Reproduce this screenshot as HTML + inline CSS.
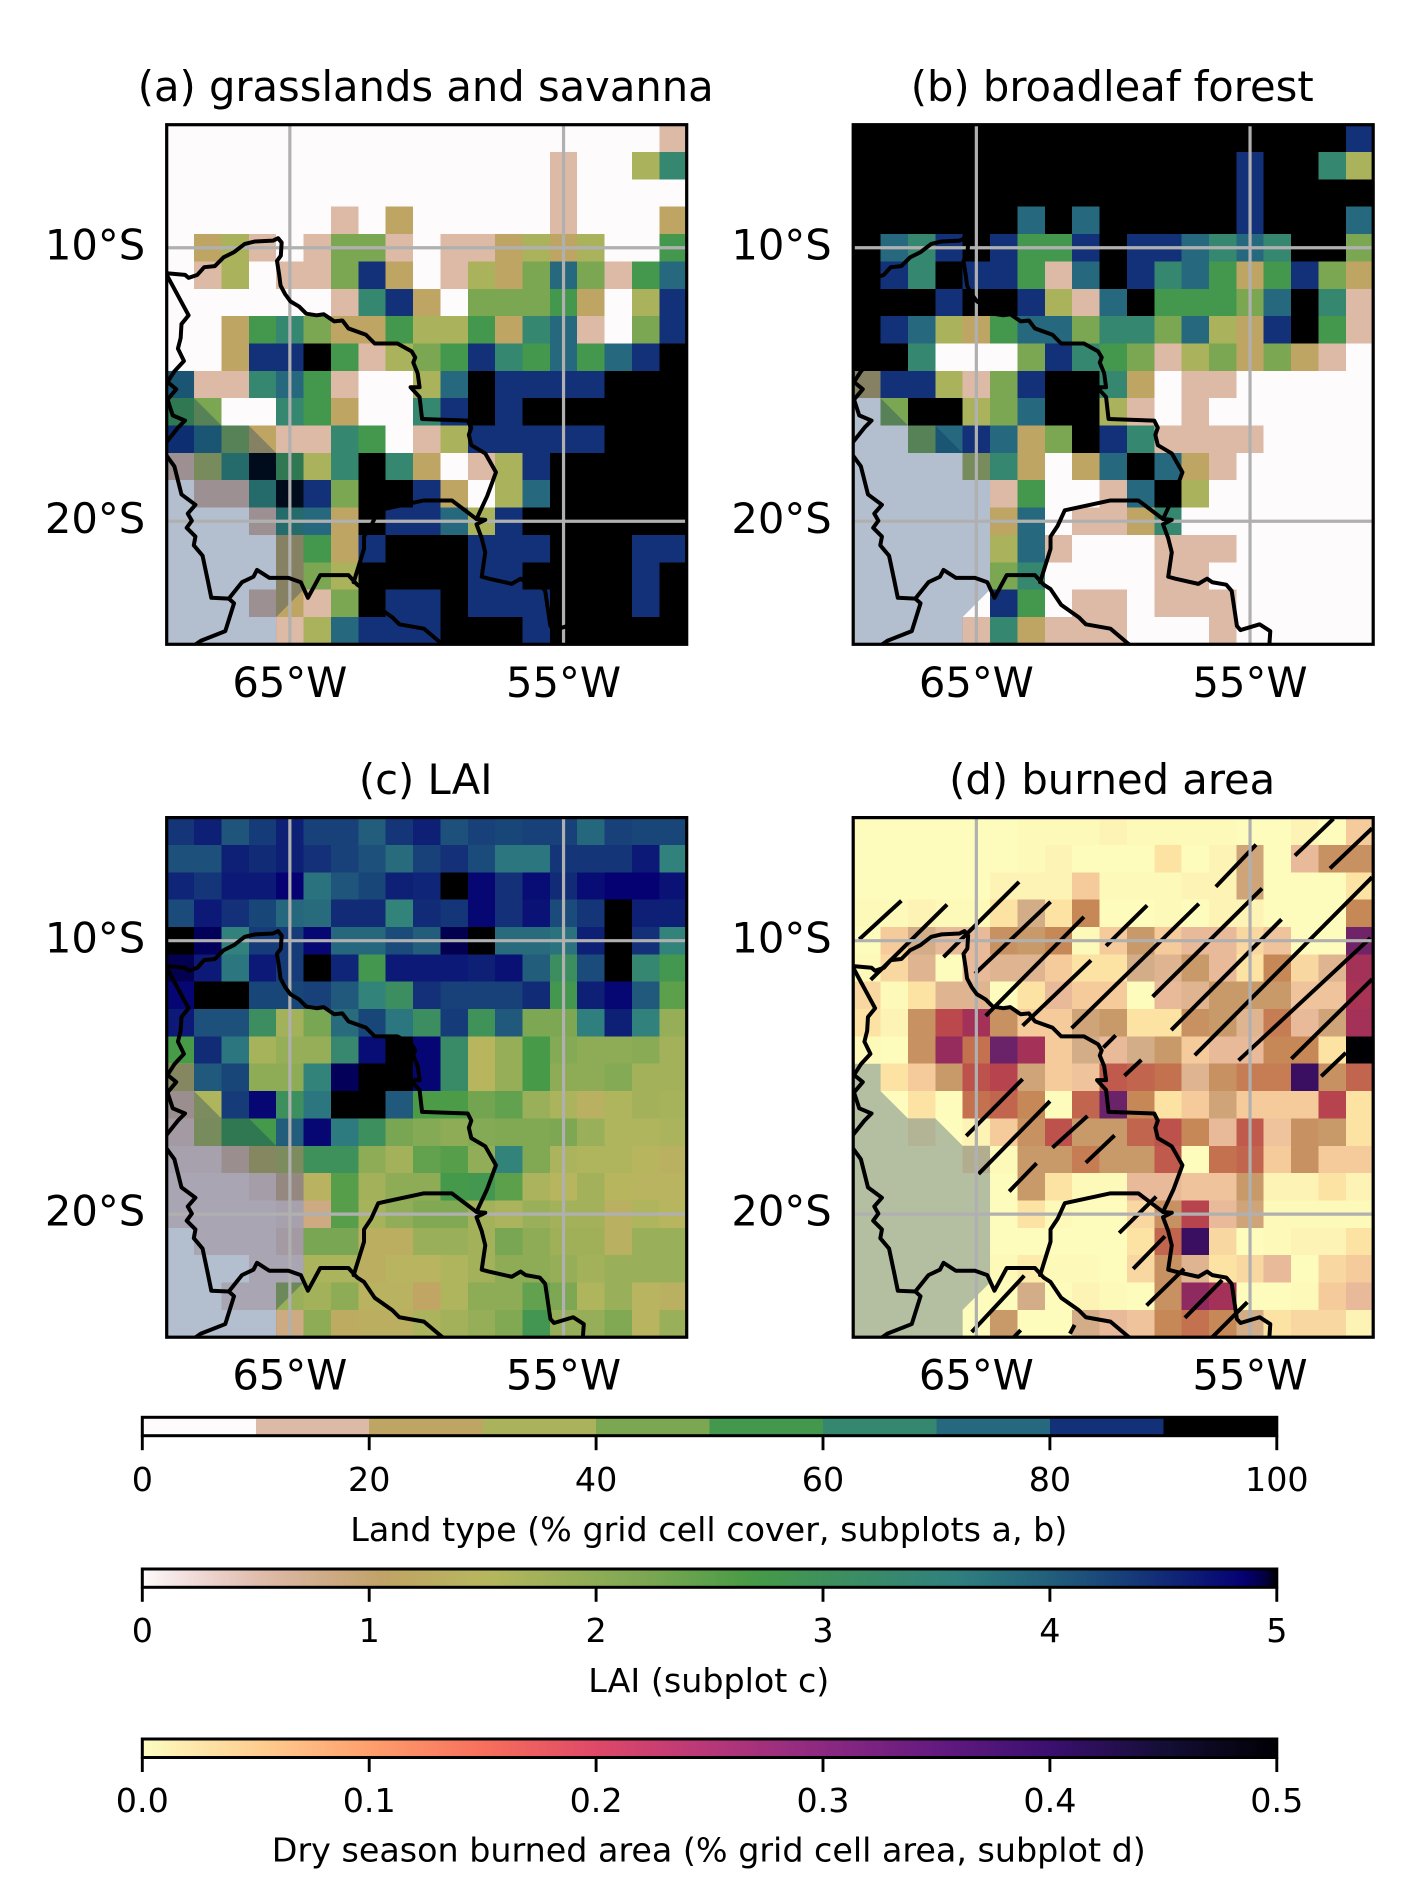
<!DOCTYPE html>
<html lang="en">
<head>
<meta charset="utf-8">
<title>Land type, LAI and burned area maps</title>
<style>
html,body{margin:0;padding:0;background:#fff}
svg{display:block}
text{font-family:"DejaVu Sans","Liberation Sans",sans-serif;fill:#000}
.title,.maptick{font-size:41.67px}
.cbtick,.cblabel{font-size:33.33px}
</style>
</head>
<body>
<svg id="figure" xmlns="http://www.w3.org/2000/svg" width="1417" height="1889" viewBox="0 0 1417 1889">
  <g id="panels"></g>
  <g id="colorbars"></g>
  <text class="title" x="425.7" y="100.8" text-anchor="middle">(a) grasslands and savanna</text>
  <text class="title" x="1112.2" y="100.8" text-anchor="middle">(b) broadleaf forest</text>
  <text class="title" x="425.7" y="793.8" text-anchor="middle">(c) LAI</text>
  <text class="title" x="1112.2" y="793.8" text-anchor="middle">(d) burned area</text>
  <text class="cblabel" x="708.8" y="1541" text-anchor="middle">Land type (% grid cell cover, subplots a, b)</text>
  <text class="cblabel" x="708.8" y="1692" text-anchor="middle">LAI (subplot c)</text>
  <text class="cblabel" x="708.8" y="1861.5" text-anchor="middle">Dry season burned area (% grid cell area, subplot d)</text>
</svg>
<script>
// ---------- data: cover deciles (0 = 0-10 %, 9 = 90-100 %) ----------
const grasslandDeciles = [
[0,0,0,0,0,0,0,0,0,0,0,0,0,0,0,0,0,0,1],
[0,0,0,0,0,0,0,0,0,0,0,0,0,0,1,0,0,3,6],
[0,0,0,0,0,0,0,0,0,0,0,0,0,0,1,0,0,0,0],
[0,0,0,0,0,0,1,0,2,0,0,0,0,0,1,0,0,0,2],
[0,2,3,1,0,1,4,4,1,0,1,1,2,3,2,3,0,0,5],
[0,1,3,0,1,1,4,8,2,0,1,3,2,4,7,4,1,5,7],
[0,0,0,0,0,0,1,6,8,2,0,4,4,4,5,2,0,3,8],
[0,0,2,5,6,4,2,2,5,3,3,5,2,6,7,1,0,4,8],
[0,0,2,8,8,9,5,1,3,4,5,8,6,5,7,5,7,8,9],
[7,1,1,6,7,5,1,0,0,3,7,9,8,8,8,8,9,9,9],
[5,4,0,0,6,5,2,0,0,6,8,9,8,9,9,9,9,9,9],
[8,7,4,2,1,1,6,5,0,1,3,8,8,8,8,8,9,9,9],
[1,3,6,9,5,3,6,9,6,2,0,1,3,8,9,9,9,9,9],
[0,1,1,6,9,8,4,9,9,8,2,0,3,7,9,9,9,9,9],
[0,0,0,1,6,7,2,9,8,8,7,3,8,9,9,9,9,9,9],
[0,0,0,0,2,5,2,8,9,9,9,8,8,8,9,9,9,8,8],
[0,0,0,0,2,4,3,9,9,9,9,8,8,9,9,9,9,8,9],
[0,0,0,1,2,1,4,9,8,8,9,8,8,8,9,9,9,8,9],
[0,0,0,0,1,3,7,8,8,8,9,9,9,8,9,9,9,9,9]];
const forestDeciles = [
[9,9,9,9,9,9,9,9,9,9,9,9,9,9,9,9,9,9,8],
[9,9,9,9,9,9,9,9,9,9,9,9,9,9,8,9,9,6,3],
[9,9,9,9,9,9,9,9,9,9,9,9,9,9,8,9,9,9,9],
[9,9,9,9,9,9,7,9,7,9,9,9,9,9,8,9,9,9,7],
[9,7,6,8,9,8,5,5,8,9,8,8,7,6,7,6,9,9,4],
[9,8,6,9,8,8,5,1,7,9,8,6,7,5,2,5,8,4,2],
[9,9,9,8,9,9,8,3,1,7,9,5,5,5,4,7,9,6,1],
[9,8,7,3,2,5,7,7,4,6,6,4,7,3,2,8,9,5,1],
[9,9,6,0,0,0,4,8,6,5,4,1,3,4,2,4,2,1,0],
[2,8,8,3,1,4,8,9,9,6,2,0,1,1,0,0,0,0,0],
[0,4,9,9,3,4,7,9,9,3,1,0,1,0,0,0,0,0,0],
[0,0,4,7,8,7,2,4,9,8,6,1,1,1,1,0,0,0,0],
[0,0,0,0,3,6,2,0,2,7,9,7,2,1,0,0,0,0,0],
[0,0,0,0,0,1,5,0,0,1,7,9,3,0,0,0,0,0,0],
[0,0,0,0,0,2,7,0,1,1,2,6,0,0,0,0,0,0,0],
[0,0,0,0,0,3,7,1,0,0,0,1,1,1,0,0,0,0,0],
[0,0,0,0,0,4,6,0,0,0,0,1,1,0,0,0,0,0,0],
[0,0,0,0,0,8,5,0,1,1,0,1,1,1,0,0,0,0,0],
[0,0,0,0,1,6,2,1,1,1,0,0,0,1,0,0,0,0,0]];
const laiValues = [
[4.4,4.6,4.1,4.35,4.6,4.3,4.3,4,4.4,4.6,4.15,4.3,4.25,4.3,4.3,3.9,4.3,4.25,4.25],
[4.15,4.15,4.6,4.5,4.6,4.45,4.3,4.15,3.85,4.3,4.45,4.2,3.7,3.7,4.4,4.4,4.4,4.65,3.55],
[4.55,4.4,4.65,4.65,4.85,3.75,4.1,4.25,4.6,4.55,5,4.8,4.45,4.75,4.5,4.75,4.85,4.85,4.7],
[4.2,4.65,4.45,4.25,3.9,3.85,4.5,4.5,3.5,4.5,4.4,4.8,4.45,4.7,4.2,4.4,5,4.6,4.6],
[5,4.9,3.55,4.35,4.35,4.8,3.9,3.9,4.2,4,4.92,5,3.85,3.85,3.75,4.6,5,4.45,3.5],
[4.92,4.65,3.7,4.65,4.35,5,4.55,2.8,4.65,4.65,4.65,4.6,4.72,4,3.1,4.2,5,3.35,2.8],
[4.82,5,5,4.25,4.25,4.3,4.05,3.5,3.1,4.45,4.3,4.3,4.3,4.5,2.8,4.6,4.8,4.05,2.5],
[4.65,4.15,4.15,3.1,1.75,2.25,3.85,4.25,3.7,3.1,4.35,2.95,4.05,2.2,2.2,3.6,4.6,3.55,1.9],
[2.7,4.5,3.7,1.7,1.9,1.9,3.3,4.75,5,4.82,3.2,1.5,1.9,2.7,2.1,2,2,2.05,1.75],
[1.3,4.05,4.25,2,2,3.5,4.9,5,5,4.82,3.2,1.5,1.9,2.7,2,2,2.1,1.75,1.75],
[0.6,1.6,4.35,4.8,3.05,3.7,5,5,4.05,2.65,2.65,2.3,2.45,1.85,1.65,1.35,1.6,1.75,1.7],
[0.4,1.67,2.78,2.75,4,4.8,3.65,3.05,2.25,2.1,2,2.1,2.15,2.15,2.2,1.85,1.6,1.6,1.65],
[0.3,0.3,0.6,1.3,1.6,3,3,2,1.75,2.45,2.55,1.95,3.5,2.15,1.65,1.6,1.6,1.5,1.35],
[0.25,0.25,0.25,0.35,0.75,1.4,2.55,1.75,2,2,2.75,2.8,2.5,1.65,1.5,1.75,1.5,1.45,1.45],
[0.25,0.25,0.25,0.25,0.3,0.85,2.55,1.7,1.95,2.15,2.15,1.75,1.65,1.85,1.75,1.75,1.35,1.6,1.5],
[0,0.25,0.25,0.25,0.4,2.25,2.25,1.3,1.3,1.85,1.85,1.75,2.25,2,1.8,1.8,1.35,1.85,1.85],
[0,0,0,0.25,0.25,1.65,1.65,1.3,1.45,1.45,1.6,1.75,2,2,1.9,1.75,1.85,1.85,1.85],
[0,0,0.25,0.25,1.85,1.75,2,1.4,1.4,1.1,1.6,2,2,2.45,2.2,1.6,1.85,1.45,1.35],
[0,0,0,0,0.85,2,1.25,1.3,1.3,1.65,1.75,1.9,2.15,2.85,1.9,1.9,2.15,1.45,1.85]];
const burnedValues = [
[0,0,0,0,0,0,.005,.005,.005,.01,.005,.005,.005,.005,0,0,.01,0,.03],
[0,0,0,0,0,0,.005,.01,0,0,0,.02,0,.01,.055,0,.04,.065,.065],
[0,0,0,0,0,.01,.01,.01,.03,.005,.005,.005,.01,.01,.055,0,0,0,.02],
[.005,.005,.01,.005,.005,.02,.05,.02,.07,0,0,.005,0,.01,.01,0,0,0,.07],
[0,.03,.05,.04,.04,.065,.06,.07,.005,.03,.06,.03,.04,.04,.025,.035,0,0,.16],
[.005,.025,.045,0,.04,.045,.045,.03,.02,.02,.05,.045,.06,.04,.02,.07,.025,.045,.125],
[.025,.005,.02,.045,.045,0,.02,.04,.03,.03,0,.04,.045,.06,.06,.06,.035,.035,.12],
[.02,.01,.065,.1,.125,.065,.03,.03,.055,.06,.02,.02,.065,.06,.045,.075,.04,.055,.125],
[.005,0,.065,.135,.08,.165,.125,.03,.05,.04,.05,.06,.03,.04,.04,.07,.07,.02,.3],
[0,.02,.03,.06,.095,.105,.055,.03,.035,.09,.085,.08,.045,.065,.075,.075,.2,.065,.085],
[0,0,.02,0,.08,.085,.07,0,.085,.165,.07,.02,.03,.055,.03,.03,.03,.105,.02],
[0,0,.015,0,.01,.03,.065,.095,.06,.06,.085,.095,.07,.04,.09,.035,.065,.06,.02],
[0,0,0,0,.02,.005,.06,.06,.075,.06,.06,.09,0,.08,.085,.03,.065,.03,.03],
[0,0,0,0,0,0,.06,.02,.005,.005,.04,.04,.035,.035,.06,.01,.01,.02,.01],
[0,0,0,0,0,0,.02,.005,0,0,.025,.065,.105,.04,.055,.005,.005,.005,.005],
[0,0,0,0,0,0,0,0,0,0,.02,.085,.2,.025,0,.005,.01,.01,.02],
[0,0,0,0,0,.005,.015,.005,.005,0,.025,.065,.045,.02,.025,.04,0,.025,.03],
[0,0,0,0,0,0,.05,0,.01,.005,0,.065,.14,.125,0,0,.005,.03,.04],
[0,0,0,0,0,.06,0,0,.05,.04,.035,.07,.08,.07,.05,.02,.025,.025,.01]];

// ---------- data: geography as [lon, lat] ----------
const borderNorth = [[-69.5,-10.93],[-68.83,-10.99],[-68.7,-11.1],[-68.38,-10.99],[-68.13,-10.71],[-67.74,-10.67],[-67.42,-10.35],[-67.04,-10.16],[-66.65,-9.86],[-66.27,-9.77],[-65.62,-9.74],[-65.43,-9.65],[-65.3,-9.81],[-65.33,-10.29],[-65.47,-10.48],[-65.39,-10.99],[-65.34,-11.38],[-65.17,-11.7],[-64.98,-11.96],[-64.66,-12.15],[-64.4,-12.41],[-64.02,-12.47],[-63.76,-12.43],[-63.38,-12.69],[-63.08,-12.66],[-62.86,-12.95],[-62.22,-13.18],[-61.9,-13.5],[-61.07,-13.5],[-60.55,-13.79],[-60.42,-14.01],[-60.49,-14.2],[-60.33,-14.59],[-60.26,-15.1],[-60.59,-15.1],[-60.26,-15.46],[-60.17,-16.26],[-58.5,-16.32],[-58.37,-16.58],[-58.46,-16.84],[-58.37,-17.22],[-57.86,-17.52],[-57.47,-18.21],[-57.79,-19.08],[-58.18,-19.92],[-57.86,-19.95],[-58.18,-20.11],[-57.99,-20.62],[-57.86,-21.14],[-57.99,-22.03],[-57.73,-22.1],[-56.89,-22.29],[-56.57,-22.1],[-56.38,-22.23],[-55.87,-22.32],[-55.67,-22.55],[-55.48,-23.83],[-55.35,-23.98],[-54.65,-23.77],[-54.26,-24.02],[-54.3,-24.6]];
const borderWest = [[-69.5,-10.99],[-68.7,-12.47],[-68.96,-12.79],[-68.99,-13.3],[-69.09,-13.69],[-68.87,-14.14],[-69.22,-14.52],[-69.47,-14.91],[-69.15,-15.17],[-69.47,-15.55],[-69.28,-16.13],[-68.83,-16.32],[-69.09,-16.58],[-69.6,-17.22],[-69.6,-17.48],[-69.5,-17.61],[-69.22,-17.99],[-68.96,-19.02],[-68.45,-19.4],[-68.73,-19.72],[-68.58,-19.98],[-68.77,-20.24],[-68.45,-20.56],[-68.51,-20.88],[-68.19,-21.26],[-68,-22.16],[-67.87,-22.8],[-67.23,-22.83],[-66.75,-22.23],[-66.33,-22.03],[-66.2,-21.78],[-65.75,-22.07],[-65.05,-22.07],[-64.6,-22.23],[-64.34,-22.8],[-63.89,-21.97],[-62.86,-21.97],[-62.54,-22.32],[-62.29,-22.48],[-61.9,-23.06],[-61.26,-23.51],[-61,-23.77],[-60.1,-23.93],[-59.46,-24.47],[-59.2,-24.67]];
const borderChile = [[-67.23,-22.83],[-67.04,-23],[-67.36,-24.02],[-68.25,-24.37],[-68.58,-24.6]];
const borderParaguay = [[-58.18,-19.92],[-59.08,-19.24],[-60.1,-19.24],[-61.77,-19.6],[-62.03,-20.17],[-62.29,-20.56],[-62.29,-21.01],[-62.67,-22.23]];
const maskOutline = [[-69.5,-14.5],[-68.5,-14.5],[-68.5,-15.5],[-67.5,-16.5],[-66.5,-16.5],[-65.5,-17.5],[-64.5,-17.5],[-64.5,-22.5],[-65.5,-23.5],[-65.5,-24.5],[-69.5,-24.5]];
const hatchSegments = [
[-69.28,-9.95,-67.74,-8.54],[-68.86,-11.43,-66.07,-8.68],[-66.2,-10.6,-63.44,-7.85],[-65.05,-11.21,-62.29,-8.58],
[-64.66,-12.75,-61.07,-9.13],[-63.31,-13.11,-60.81,-10.72],[-60.26,-10.19,-58.76,-8.71],[-61.52,-13.2,-56.87,-8.65],
[-58.56,-12.05,-54.56,-8.09],[-57.88,-13.27,-53.85,-9.22],[-57.02,-14.19,-50.54,-7.68],[-56.25,-8.03,-54.78,-6.49],
[-53.36,-6.89,-51.95,-5.54],[-52.08,-7.36,-50.54,-5.89],[-55.42,-14.38,-50.6,-9.9],[-53.49,-14.32,-50.54,-11.41],
[-52.4,-14.96,-51.5,-14.1],[-60.36,-13.91,-59.91,-13.46],[-59.59,-14.94,-58.97,-14.36],[-65.37,-17.14,-63.31,-15.06],
[-64.92,-18.53,-62.31,-15.87],[-62.22,-17.57,-60.94,-16.41],[-61,-18.12,-59.95,-17.12],[-63.8,-19.17,-62.8,-18.14],
[-59.78,-20.69,-58.43,-19.36],[-59.27,-22,-58.11,-20.81],[-58.78,-23.34,-57.41,-22],[-57.38,-23.79,-56.02,-22.41],
[-56.38,-24.5,-55.1,-23.22],[-65.17,-24.31,-63.25,-22.25],[-63.63,-24.5,-63.38,-24.24],[-61.58,-24.37,-61.41,-24.05]];

// ---------- axis ticks ----------
const lonTicks = [-65, -55];
const lonTickLabels = ['65°W', '55°W'];
const latTicks = [-10, -20];
const latTickLabels = ['10°S', '20°S'];
const landTicks = [0, 20, 40, 60, 80, 100];
const landTickLabels = ['0', '20', '40', '60', '80', '100'];
const laiTicks = [0, 1, 2, 3, 4, 5];
const laiTickLabels = ['0', '1', '2', '3', '4', '5'];
const burnTicks = [0, 0.1, 0.2, 0.3, 0.4, 0.5];
const burnTickLabels = ['0.0', '0.1', '0.2', '0.3', '0.4', '0.5'];

// ---------- colour maps ----------
const earthRed = [[0,0],[.2824,.1882],[.4588,.2714],[.549,.4719],[.698,.7176],[.7882,.7553],[1,.9922]];
const earthGreen = [[0,0],[.0275,0],[.1098,.1893],[.1647,.3035],[.2078,.3841],[.2824,.502],[.5216,.6397],[.698,.7171],[.7882,.6392],[.8157,.6549],[.8667,.6991],[.898,.743],[.9412,.8275],[.9647,.8816],[.9961,.9733],[1,.9843]];
const earthBlue = [[0,0],[.0039,.1684],[.0078,.2212],[.0275,.4329],[.0314,.4549],[.2824,.5004],[.4667,.2748],[.5451,.3205],[.7843,.3961],[.8941,.6651],[1,.9843]];
const magmaColors = ['#000004','#140e36','#3b0f70','#641a80','#8c2981','#b73779','#de4968','#f7705c','#fe9f6d','#fecf92','#fcfdbf'];
const burnStopValues = [0,.005,.01,.02,.03,.04,.05,.06,.07,.08,.09,.10,.12,.14,.17,.20,.30];
const burnStopColors = ['#fefcbd','#fdf9b9','#fdf3b4','#fce3a4','#f6cb9c','#e8ba9a','#d3ad87','#c99a69','#c78858','#c47150','#c05a4c','#ba484c','#a93355','#8f2a60','#62206a','#3a0f62','#000004'];

function hex(c){return [parseInt(c.slice(1,3),16),parseInt(c.slice(3,5),16),parseInt(c.slice(5,7),16)];}
function seg(tbl,t){
  for(let i=1;i<tbl.length;i++){
    if(t<=tbl[i][0]){
      const f=(t-tbl[i-1][0])/(tbl[i][0]-tbl[i-1][0]);
      return tbl[i-1][1]+f*(tbl[i][1]-tbl[i-1][1]);
    }
  }
  return tbl[tbl.length-1][1];
}
function earthReversed(f){
  const t=1-Math.max(0,Math.min(1,f));
  return 'rgb('+Math.round(255*seg(earthRed,t))+','+Math.round(255*seg(earthGreen,t))+','+Math.round(255*seg(earthBlue,t))+')';
}
function landColor(decile){return earthReversed(decile/9);}
function laiColor(v){return earthReversed(v/5);}
function magmaReversed(f){
  const t=(1-Math.max(0,Math.min(1,f)))*(magmaColors.length-1);
  const i=Math.min(magmaColors.length-2,Math.floor(t));
  const a=hex(magmaColors[i]),b=hex(magmaColors[i+1]),k=t-i;
  return 'rgb('+a.map((p,n)=>Math.round(p+k*(b[n]-p))).join(',')+')';
}
function burnCellColor(v){
  let i=1;
  while(i<burnStopValues.length-1&&v>burnStopValues[i])i++;
  const k=Math.max(0,Math.min(1,(v-burnStopValues[i-1])/(burnStopValues[i]-burnStopValues[i-1])));
  const a=hex(burnStopColors[i-1]),b=hex(burnStopColors[i]);
  return 'rgb('+a.map((p,n)=>Math.round(p+k*(b[n]-p))).join(',')+')';
}

// ---------- drawing ----------
const NS='http://www.w3.org/2000/svg';
function mk(tag,attrs,parent){
  const e=document.createElementNS(NS,tag);
  for(const k in attrs)e.setAttribute(k,attrs[k]);
  if(parent)parent.appendChild(e);
  return e;
}
const LON0=-69.5, LAT0=-5.5, SPAN=19;
const PW=520, PH=519.6;
const panelDefs=[
 {key:'a',x0:166.7,y0:124.7,data:grasslandDeciles,color:landColor,hatch:false},
 {key:'b',x0:853.2,y0:124.7,data:forestDeciles,color:landColor,hatch:false},
 {key:'c',x0:166.7,y0:817.6,data:laiValues,color:laiColor,hatch:false},
 {key:'d',x0:853.2,y0:817.6,data:burnedValues,color:burnCellColor,hatch:true}
];
const panelsRoot=document.getElementById('panels');
const defs=mk('defs',{},panelsRoot);

panelDefs.forEach(function(p){
  const xs=function(lon){return p.x0+(lon-LON0)/SPAN*PW;};
  const ys=function(lat){return p.y0+(LAT0-lat)/SPAN*PH;};
  const clip=mk('clipPath',{id:'clip-'+p.key},defs);
  mk('rect',{x:p.x0,y:p.y0,width:PW,height:PH},clip);

  const g=mk('g',{'clip-path':'url(#clip-'+p.key+')'},panelsRoot);
  
  

  p.data.forEach(function(row,r){
    row.forEach(function(v,c){
      const x1=xs(LON0+c),x2=xs(LON0+c+1),y1=ys(LAT0-r),y2=ys(LAT0-r-1);
      const cell=mk('rect',{x:x1,y:y1,width:x2-x1+0.3,height:y2-y1+0.3,fill:p.color(v),'shape-rendering':'crispEdges'},g);
      
      
    });
  });

  const mask=mk('polygon',{points:maskOutline.map(q=>xs(q[0])+','+ys(q[1])).join(' '),fill:'rgb(0,41,97)','fill-opacity':0.29},g);
  
  

  if(p.hatch){
    hatchSegments.forEach(function(s){
      const h=mk('line',{x1:xs(s[0]),y1:ys(s[1]),x2:xs(s[2]),y2:ys(s[3]),stroke:'#000','stroke-width':4},g);
      
      
    });
  }

  lonTicks.forEach(function(lon){
    const gl=mk('line',{x1:xs(lon),x2:xs(lon),y1:p.y0,y2:p.y0+PH,stroke:'#b0b0b0','stroke-width':3.2},g);
    
    
  });
  latTicks.forEach(function(lat){
    const gl=mk('line',{y1:ys(lat),y2:ys(lat),x1:p.x0,x2:p.x0+PW,stroke:'#b0b0b0','stroke-width':3.2},g);
    
    
  });

  [borderNorth,borderWest,borderChile,borderParaguay].forEach(function(line){
    const b=mk('polyline',{points:line.map(q=>xs(q[0])+','+ys(q[1])).join(' '),fill:'none',stroke:'#000','stroke-width':4,'stroke-linejoin':'round','stroke-linecap':'round'},g);
    
    
  });

  const frame=mk('rect',{x:p.x0,y:p.y0,width:PW,height:PH,fill:'none',stroke:'#000','stroke-width':3.2},panelsRoot);
  
  

  lonTicks.forEach(function(lon,i){
    const t=mk('text',{class:'maptick',x:xs(lon),y:p.y0+PH+52.5,'text-anchor':'middle'},panelsRoot);
    t.textContent=lonTickLabels[i];
    
    
  });
  latTicks.forEach(function(lat,i){
    const t=mk('text',{class:'maptick',x:p.x0-21.5,y:ys(lat)+11.6,'text-anchor':'end'},panelsRoot);
    t.textContent=latTickLabels[i];
    
    
  });
});

// ---------- colorbars ----------
const cbRoot=document.getElementById('colorbars');
const CBX=142.3, CBW=1134.5;
function drawTicks(name,top,bottom,labelBase,min,max,ticks,labels){
  ticks.forEach(function(v,i){
    const x=CBX+(v-min)/(max-min)*CBW;
    const tk=mk('line',{x1:x,x2:x,y1:bottom,y2:bottom+14.5,stroke:'#000','stroke-width':2.9},cbRoot);
    
    
    const t=mk('text',{class:'cbtick',x:x,y:labelBase,'text-anchor':'middle'},cbRoot);
    t.textContent=labels[i];
    
    
  });
}
function frameBar(name,top,bottom){
  const f=mk('rect',{x:CBX,y:top,width:CBW,height:bottom-top,fill:'none',stroke:'#000','stroke-width':3},cbRoot);
  
  
}
function gradientBar(name,top,bottom,fn){
  const id='grad-'+name;
  const lg=mk('linearGradient',{id:id,x1:0,x2:1,y1:0,y2:0},defs);
  for(let i=0;i<=100;i++){
    mk('stop',{offset:i+'%','stop-color':fn(i/100)},lg);
  }
  const r=mk('rect',{x:CBX,y:top,width:CBW,height:bottom-top,fill:'url(#'+id+')'},cbRoot);
  
  
}

const landBins=[0,1,2,3,4,5,6,7,8,9];
landBins.forEach(function(b){
  const x=CBX+b/landBins.length*CBW;
  const r=mk('rect',{x:x,y:1417.3,width:CBW/landBins.length+0.3,height:18.4,fill:landColor(b),'shape-rendering':'crispEdges'},cbRoot);
  
  
});
frameBar('land-type-colorbar',1417.3,1435.7);
drawTicks('land-type-colorbar',1417.3,1435.7,1491,0,100,landTicks,landTickLabels);

gradientBar('lai-colorbar',1569,1587.3,function(f){return earthReversed(f);});
frameBar('lai-colorbar',1569,1587.3);
drawTicks('lai-colorbar',1569,1587.3,1642,0,5,laiTicks,laiTickLabels);

gradientBar('burned-area-colorbar',1739,1757.5,function(f){return magmaReversed(f);});
frameBar('burned-area-colorbar',1739,1757.5);
drawTicks('burned-area-colorbar',1739,1757.5,1812,0,0.5,burnTicks,burnTickLabels);
</script>
</body>
</html>
